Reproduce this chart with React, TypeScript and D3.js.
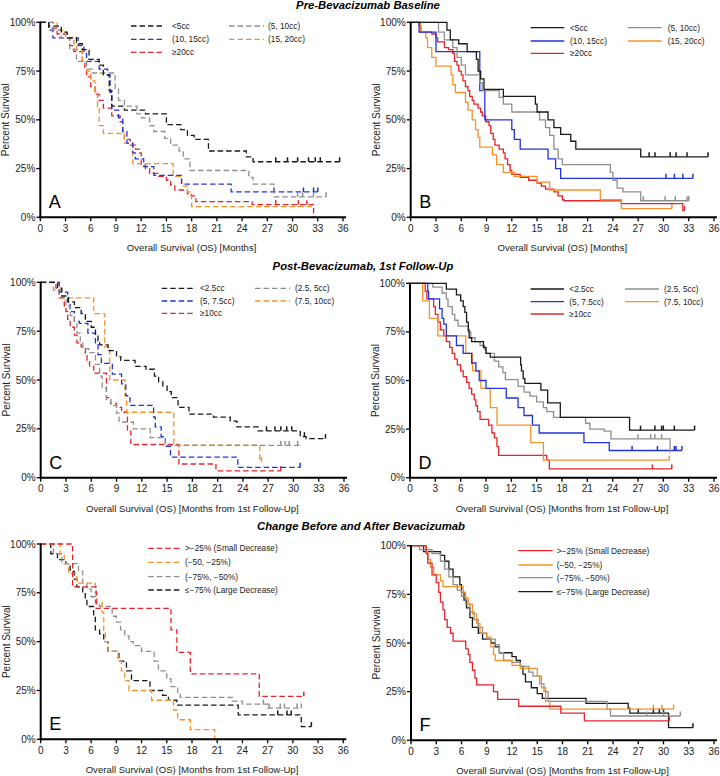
import React from 'react';
import * as d3 from 'd3';

type Step = [number, number];

// ---------- Panel A: Pre-Bevacizumab Baseline (dashed) ----------
const A_lt5: Step[] = [[1.0,98],[2.5,95],[3.2,92],[4.3,89],[5.0,86],[5.8,81],[7.0,78],[7.5,73],[8.2,65],[8.5,57],[10.0,55],[12.5,53],[15.0,47.5],[16.7,45],[17.5,42],[18.3,40],[20.0,34],[24.5,31],[25.3,28.5]];
const A_lt5_censor = [28.0,29.4,30.6,31.9,32.7,33.3,35.6];
const A_5to10: Step[] = [[1.5,96],[2.5,92],[3.5,86],[4.3,80],[5.5,76],[6.2,74],[8.9,66],[9.3,60],[10,57],[11.5,53],[12,51],[13,47],[13.5,44],[14.8,40.5],[15.5,37],[16.5,34],[17,30],[17.8,24],[24.8,20.5],[25.3,17],[27.8,10.5]];
const A_5to10_censor = [30.6,31.2,32.5,34.0];
const A_10to15: Step[] = [[1,96],[1.5,92],[4.5,88],[5.2,84],[5.5,80],[7,76],[8,73],[8.3,64],[8.5,55],[9.3,51],[9.8,44],[10.3,38],[11,33],[11.3,30],[12.3,26],[13.5,21.5],[16.8,17],[22.7,13]];
const A_10to15_censor = [27.8,31.3,32.5,33.0];
const A_15to20: Step[] = [[2,96],[3,92],[4,89],[4.3,86],[5,80],[5.5,75],[6,70],[6.5,64],[6.8,57],[7,47],[7.5,43],[10,38],[11,27.5],[15.8,21],[16.8,16],[17.5,13],[17.8,11],[18,5.5]];
const A_15to20_censor: number[] = [];
const A_ge20: Step[] = [[1,97],[2,94],[3,92],[3.5,88],[4,85],[5,80],[5.3,76],[5.5,72],[6,67],[6.5,63],[7,60],[7.5,56],[8.5,52],[9.5,49],[9.8,44],[10,40],[10.7,37],[11.3,35],[11.8,33],[12,27],[12.5,25],[13,22.5],[14,21],[15,19],[15.5,16.5],[16,14],[17.5,12],[18,11],[18.5,8],[25.2,6.5],[32.5,0]];
const A_ge20_censor = [28.0,30.7,31.7];

// ---------- Panel B: Pre-Bevacizumab Baseline (solid) ----------
const B_lt5: Step[] = [[4.3,96],[4.7,91],[5.7,89],[6.7,85],[7.8,81],[8.0,75],[8.3,71],[8.7,65.6],[11,62],[14.8,58],[15,54],[16.3,50],[17,46],[17.8,42.5],[19,39],[19.6,35],[27.3,31]];
const B_lt5_censor = [28.3,29.0,30.8,31.5,32.8,35.3];
const B_5to10: Step[] = [[3.3,95],[4,91],[5,87],[5.5,82],[6,78],[6.5,73],[8.2,69],[8.5,65],[10.5,61.5],[11,58],[12,54],[15.3,50],[16,46],[16.5,42],[17,35],[17.5,30],[18,27],[23.7,23],[24,19],[24.5,15],[25.2,13],[27.3,8.5]];
const B_5to10_censor = [27.6,30.2,31.4,32.8,33.0];
const B_10to15: Step[] = [[1,95],[3,85],[8.2,65],[8.8,50],[12,45],[12.3,40],[13,35],[16.3,30],[17.2,25],[17.8,20]];
const B_10to15_censor = [30.3,31.3,32.3,33.5];
const B_15to20: Step[] = [[1.2,95],[1.8,92],[2,87],[2.5,82],[3,77.5],[4.8,73],[5,68],[5.3,64],[6.5,59],[6.8,55],[7.3,50],[7.7,45],[8,41],[8.2,36],[9.7,32],[10.2,27],[11,23],[12.3,21],[15,18],[16.5,14],[22.5,9],[25,4.5]];
const B_15to20_censor = [31.0];
const B_ge20: Step[] = [[1,98],[1.2,95],[2.5,94],[3,92],[3.2,90],[4,87],[4.5,86],[5,84],[5.2,80],[5.5,78],[5.7,75],[6,73],[6.2,70],[6.5,67],[6.8,65],[7,62],[7.3,60],[7.5,58],[8,56],[8.3,54],[8.5,52],[8.9,49],[9.3,47],[9.5,43],[9.8,40],[10,37],[10.5,35],[11,33],[11.2,30],[11.5,27],[11.8,24],[12,22],[13,20.5],[14,19],[15,17.5],[15.5,16],[16,14.5],[17,13],[17.5,11],[18,9],[18.2,8.5],[25,7],[32.3,3.5]];
const B_ge20_censor = [32.5];

// ---------- Panel C: Post-Bevacizumab 1st Follow-Up (dashed) ----------
const C_lt25: Step[] = [[2,97],[2.5,93],[3.3,90],[4,87],[4.8,84],[5.3,80],[6,77],[6.5,73],[6.8,70],[7,68],[8,65],[9,62],[9.5,60],[11.2,57],[12.5,55.5],[13.5,52],[14,49],[14.5,47],[15,44],[15.5,41],[16.3,36],[17.6,32.5],[20.5,31],[22.5,29],[23.3,26],[25.8,24],[30.8,21],[31.5,20]];
const C_lt25_censor = [26.8,27.8,28.5,29.2,29.8,31.3,33.8];
const C_25to5: Step[] = [[1.5,96],[2.5,92],[3,88],[3.5,83],[4,79],[4.3,74],[4.7,70],[5,66],[5.7,64],[6.5,58],[7,52],[7.3,46],[7.8,40],[8.3,37],[9,33],[9.3,28.5],[11,25],[13,20.5],[14.8,16.5]];
const C_25to5_censor = [28.5,29.0,29.5,30.5];
const C_5to75: Step[] = [[2.2,95],[3.2,90],[3.5,85],[4,80],[4.6,79],[5.6,74],[6.5,69],[6.8,63],[7.2,58.5],[8.5,53],[9.6,48],[10.1,42],[10.6,37],[13.4,31],[13.6,26],[14.3,21],[14.8,16],[15.4,10.5],[23.4,5.3]];
const C_5to75_censor = [30.8];
const C_75to10: Step[] = [[2.2,92],[6.3,84],[7.6,67],[8.2,50],[10,42],[10.2,33.5],[15.8,16.7],[26,8.3]];
const C_75to10_censor = [26.2];
const C_ge10: Step[] = [[1.8,97],[2.2,92],[2.8,88],[3,85],[3.2,81],[3.5,77],[4,73],[4.3,69],[4.8,67],[5.3,63],[5.5,60],[5.8,57],[6.3,53.5],[7.8,41],[8.3,38],[9,36],[9.6,33.5],[10.3,24],[10.7,17],[16.4,7],[20.8,3.5]];
const C_ge10_censor = [28.5];

// ---------- Panel D: Post-Bevacizumab 1st Follow-Up (solid) ----------
const D_lt25: Step[] = [[4.3,97],[5.5,94],[6,91],[6.3,88],[6.5,85],[6.7,80],[6.9,76],[7,72],[7.3,70],[8.7,67],[9,64],[9.5,62],[13.1,58],[13.2,55],[13.4,51],[13.6,48.5],[15.5,45],[16.3,38.5],[17.8,31],[26,24.5]];
const D_lt25_censor = [27.3,29.0,29.8,30.0,31.3,33.7];
const D_25to5: Step[] = [[2.7,98],[3.8,95],[4.3,92],[4.5,88],[5,84],[5.3,81],[5.7,78],[6.9,75],[7.2,72],[7.7,70],[8.3,68],[8.8,66],[9,64],[10,60],[10.5,57],[11,54],[11.3,50.5],[12.8,47],[13.5,44],[14.2,42],[15,39],[15.8,36],[16.2,34],[17,31],[20.8,28],[21.3,25],[23,24],[23.8,20],[30.8,13]];
const D_25to5_censor = [27.0,28.5,29.0,29.8];
const D_5to75: Step[] = [[2.1,96],[2.2,92],[3.5,87],[3.8,82],[4,79],[4.3,73],[5.5,68],[6.3,64],[7.3,59],[7.8,55],[8.2,50],[9,46],[11.4,41],[12.8,36],[13.5,32],[14.5,27],[15.3,23],[20.6,18],[23.6,14]];
const D_5to75_censor = [26.3,29.3,31.3,31.5,32.2];
const D_75to10: Step[] = [[1.5,91],[2.3,82],[3.3,73],[6.6,64],[7.4,55],[8.4,46],[9.5,36],[10.3,27],[14.3,18],[15.8,9]];
const D_75to10_censor = [30.7];
const D_ge10: Step[] = [[1.8,96],[2,92],[2.8,88],[3,84],[3.3,80],[3.6,76],[4,73],[4.3,70],[4.7,67],[5,64],[5.3,61],[5.6,58],[6,55],[6.3,52],[6.7,49],[7,46],[7.3,43],[7.6,40],[7.8,37],[8,34],[8.3,30],[9.3,27],[9.7,23],[10,20.5],[10.3,16],[10.5,11.5],[16.2,9],[16.5,4.5]];
const D_ge10_censor = [28.7,31.0];

// ---------- Panel E: Change Before and After (dashed) ----------
const E_small: Step[] = [[3.8,78],[6.6,67],[15.5,56],[16.2,44.5],[17.8,33.5],[26,22]];
const E_small_censor = [31.3];
const E_50to25: Step[] = [[2.3,95],[2.8,90],[3.3,85],[4.3,80],[6.5,75],[6.7,70],[7.3,65],[7.5,55],[7.7,50],[8,45],[9.2,40],[9.6,35],[10,30],[10.5,25],[13.2,20],[15.8,15],[16.3,10],[17.8,5],[20.7,0]];
const E_50to25_censor: number[] = [];
const E_75to50: Step[] = [[1.5,95],[2.5,90],[4.5,86],[5,80],[5.5,77],[6,73],[6.5,70],[7,68],[8.5,63],[9,60],[9.5,56],[10,53],[10.5,50],[11,48],[12,45],[13.5,40],[14,35],[15,31],[15.5,27],[16.3,24],[16.6,21.5],[22.8,19.5],[24,18],[27,16]];
const E_75to50_censor = [26.5,27.2,28.5,29.0,30.5,31.0];
const E_large: Step[] = [[1.2,95],[2,92],[3,90],[3.5,86],[4,82],[4.3,78],[5,75],[5.3,72],[5.5,68],[6.3,63],[6.5,56],[7,54],[7.5,50],[8,45],[9.3,40],[10.2,35],[10.8,30],[13,25],[14.5,22.5],[15.2,20],[16.2,17.5],[23.5,12.5],[31,6.5]];
const E_large_censor = [28.2,29.3,29.8,32.2];

// ---------- Panel F: Change Before and After (solid) ----------
const F_small: Step[] = [[1.8,96],[2,91],[2.5,85],[3,81],[3.3,76],[3.5,71],[3.8,67],[4,62],[4.3,58],[4.7,55],[5,51],[6.5,47],[6.8,44],[7,40],[7.3,36],[7.6,32],[7.8,28.5],[9.8,25],[10.3,21],[12.8,17.5],[17.8,14],[20.6,10]];
const F_small_censor = [30.7];
const F_50to25: Step[] = [[1.8,97],[2,93],[2.3,89],[2.7,85],[3.5,82],[3.8,79],[6.2,76],[6.5,73],[6.8,70],[7.3,65],[7.8,60],[8.2,55],[9,53],[9.5,48],[9.8,44],[10,41],[12,38.5],[13,37],[15,33],[15.5,27],[16,20],[16.5,16]];
const F_50to25_censor = [28.8,29.8,31.2];
const F_75to50: Step[] = [[1,98],[2.5,96],[3.5,92],[4,88],[4.5,84],[5,80],[5.5,77],[6,74],[6.5,70],[7,66],[7.5,62],[8,58],[8.5,55],[9,52],[10,49],[10.5,45],[11,41],[12,40],[13,38],[14,35],[14.5,33],[15.3,29],[15.8,25],[16.3,20],[23.3,16],[23.7,12.5]];
const F_75to50_censor = [28.0,30.0,32.0];
const F_large: Step[] = [[1.5,97],[3.5,95],[4,92],[4.5,88],[5,84],[5.8,80],[6,76],[6.3,72],[6.6,68],[7,63],[7.3,58],[8,55],[8.5,52],[9.5,50],[10,48],[10.5,45],[12,43],[12.5,41],[13,38],[13.3,34],[13.6,30],[14.3,27],[15,24],[15.6,21.5],[20.8,19],[25.8,16.5],[26,14],[30.6,6.5]];
const F_large_censor = [27.0,28.8,29.5,30.0,33.5];

// ---------- Labels / ticks ----------
const xTicks = [0,3,6,9,12,15,18,21,24,27,30,33,36];
const yTicks = [0,25,50,75,100];
const yTickLabels = ['0%','25%','50%','75%','100%'];
const labelsAB = ['<5cc','(5, 10cc)','(10, 15cc)','(15, 20cc)','≥20cc'];
const labelsCD = ['<2.5cc','(2.5, 5cc)','(5, 7.5cc)','(7.5, 10cc)','≥10cc'];
const labelsEF = ['>−25% (Small Decrease)','(−50, −25%)','(−75%, −50%)','≤−75% (Large Decrease)'];
const endsA = [35.6, 34.0, 33.0, 32.5, 32.5];
const endsB = [35.3, 33.0, 33.5, 31.0, 32.5];
const endsC = [33.8, 30.8, 30.8, 26.2, 28.5];
const endsD = [33.7, 30.8, 32.2, 30.7, 31.0];
const endsE = [31.3, 20.7, 31.0, 32.2];
const endsF = [30.7, 31.2, 32.0, 33.5];
const sectionTitles = ['Pre-Bevacizumab Baseline', 'Post-Bevacizumab, 1st Follow-Up', 'Change Before and After Bevacizumab'];

const FONT = "'Liberation Sans', Arial, Helvetica, sans-serif";

const COL = {
  black: '#1a1a1a', gray: '#8f8f8f', blue: '#2233d8', orange: '#f5922a', red: '#e5242a',
};
const fiveColors = [COL.black, COL.gray, COL.blue, COL.orange, COL.red];
const fourColors = [COL.red, COL.orange, COL.gray, COL.black];

interface Series { label: string; color: string; steps: Step[]; end: number; censors: number[]; }
interface PanelCfg {
  letter: string; x0: number; x1: number; yTop: number; yBot: number; dashed: boolean;
  xTitle: string; series: Series[];
  legCols: { lineX: number; lineW: number; textX: number }[]; legRows: number[];
}

function mk(labels: string[], colors: string[], steps: Step[][], ends: number[], censors: number[][]): Series[] {
  return labels.map((l, i) => ({ label: l, color: colors[i], steps: steps[i], end: ends[i], censors: censors[i] }));
}

const panels: PanelCfg[] = [
  {
    letter: 'A', x0: 40.3, x1: 343, yTop: 22.3, yBot: 217.3, dashed: true,
    xTitle: 'Overall Survival (OS) [Months]',
    series: mk(labelsAB, fiveColors, [A_lt5, A_5to10, A_10to15, A_15to20, A_ge20], endsA,
      [A_lt5_censor, A_5to10_censor, A_10to15_censor, A_15to20_censor, A_ge20_censor]),
    legCols: [{ lineX: 131, lineW: 34, textX: 172 }, { lineX: 229, lineW: 35, textX: 268 }],
    legRows: [26, 39.3, 52.3],
  },
  {
    letter: 'B', x0: 410.7, x1: 714, yTop: 22.3, yBot: 217.3, dashed: false,
    xTitle: 'Overall Survival (OS) [Months]',
    series: mk(labelsAB, fiveColors, [B_lt5, B_5to10, B_10to15, B_15to20, B_ge20], endsB,
      [B_lt5_censor, B_5to10_censor, B_10to15_censor, B_15to20_censor, B_ge20_censor]),
    legCols: [{ lineX: 530.7, lineW: 33.5, textX: 570 }, { lineX: 628, lineW: 33.7, textX: 667.7 }],
    legRows: [27.7, 41, 53.3],
  },
  {
    letter: 'C', x0: 40.7, x1: 344, yTop: 282.3, yBot: 477.7, dashed: true,
    xTitle: 'Overall Survival (OS) [Months from 1st Follow-Up]',
    series: mk(labelsCD, fiveColors, [C_lt25, C_25to5, C_5to75, C_75to10, C_ge10], endsC,
      [C_lt25_censor, C_25to5_censor, C_5to75_censor, C_75to10_censor, C_ge10_censor]),
    legCols: [{ lineX: 161.7, lineW: 31.6, textX: 200 }, { lineX: 255, lineW: 35, textX: 295 }],
    legRows: [288.3, 301, 313.3],
  },
  {
    letter: 'D', x0: 410, x1: 714, yTop: 283.3, yBot: 477.7, dashed: false,
    xTitle: 'Overall Survival (OS) [Months from 1st Follow-Up]',
    series: mk(labelsCD, fiveColors, [D_lt25, D_25to5, D_5to75, D_75to10, D_ge10], endsD,
      [D_lt25_censor, D_25to5_censor, D_5to75_censor, D_75to10_censor, D_ge10_censor]),
    legCols: [{ lineX: 530.7, lineW: 33.3, textX: 569.3 }, { lineX: 625, lineW: 34, textX: 664 }],
    legRows: [289, 301.7, 314],
  },
  {
    letter: 'E', x0: 40.7, x1: 343.3, yTop: 544, yBot: 739.3, dashed: true,
    xTitle: 'Overall Survival (OS) [Months from 1st Follow-Up]',
    series: mk(labelsEF, fourColors, [E_small, E_50to25, E_75to50, E_large], endsE,
      [E_small_censor, E_50to25_censor, E_75to50_censor, E_large_censor]),
    legCols: [{ lineX: 148.3, lineW: 33.4, textX: 185 }],
    legRows: [548.3, 562.3, 576.7, 590],
  },
  {
    letter: 'F', x0: 411, x1: 714, yTop: 545.7, yBot: 740.3, dashed: false,
    xTitle: 'Overall Survival (OS) [Months from 1st Follow-Up]',
    series: mk(labelsEF, fourColors, [F_small, F_50to25, F_75to50, F_large], endsF,
      [F_small_censor, F_50to25_censor, F_75to50_censor, F_large_censor]),
    legCols: [{ lineX: 518.3, lineW: 34.4, textX: 556.7 }],
    legRows: [550.7, 565, 577.7, 591.7],
  },
];

function survAt(steps: Step[], t: number): number {
  let s = 100;
  for (const [tt, ss] of steps) { if (tt <= t) s = ss; else break; }
  return s;
}

const DASH = '5.5,3';

function Panel({ p }: { p: PanelCfg }) {
  const x = d3.scaleLinear().domain([0, 36]).range([p.x0, p.x1]);
  const y = d3.scaleLinear().domain([0, 100]).range([p.yBot, p.yTop]);
  const line = d3.line<[number, number]>().x(d => x(d[0])).y(d => y(d[1])).curve(d3.curveStepAfter);
  const ncols = p.legCols.length;
  const drawOrder = p.series.map((s, i) => i).reverse();
  return (
    <g>
      {drawOrder.map(i => {
        const s = p.series[i];
        const pts: [number, number][] = [[0, 100], ...s.steps.map(d => [d[0], d[1]] as [number, number])];
        const last = pts[pts.length - 1];
        if (s.end > last[0]) pts.push([s.end, last[1]]);
        return (
          <g key={i}>
            <path d={line(pts) || ''} fill="none" stroke={s.color} strokeWidth={1.3}
              strokeDasharray={p.dashed ? DASH : undefined} />
            {s.censors.map((c, j) => {
              const cx = x(c); const cy = y(survAt(s.steps, c));
              return <line key={j} x1={cx} x2={cx} y1={cy} y2={cy - 4.5} stroke={s.color} strokeWidth={1.5} />;
            })}
          </g>
        );
      })}
      {/* axes */}
      <line x1={p.x0} x2={p.x0} y1={p.yTop - 0.5} y2={p.yBot + 1} stroke="#000" strokeWidth={2} />
      <line x1={p.x0 - 1} x2={x(36) + 3} y1={p.yBot} y2={p.yBot} stroke="#000" strokeWidth={2} />
      {yTicks.map((v, i) => (
        <g key={'y' + v}>
          <line x1={p.x0 - 4} x2={p.x0} y1={y(v)} y2={y(v)} stroke="#000" strokeWidth={1.3} />
          <text x={p.x0 - 5} y={y(v) + 3.5} textAnchor="end" fontSize={10} fontFamily={FONT} fill="#222">{yTickLabels[i]}</text>
        </g>
      ))}
      {xTicks.map(v => (
        <g key={'x' + v}>
          <line x1={x(v)} x2={x(v)} y1={p.yBot} y2={p.yBot + 4} stroke="#000" strokeWidth={1.3} />
          <text x={x(v)} y={p.yBot + 14.5} textAnchor="middle" fontSize={10} fontFamily={FONT} fill="#222">{v}</text>
        </g>
      ))}
      <text x={(p.x0 + p.x1) / 2} y={p.yBot + 34} textAnchor="middle" fontSize={9.6} fontFamily={FONT} fill="#222">{p.xTitle}</text>
      <text transform={`translate(${p.x0 - 31},${(p.yTop + p.yBot) / 2}) rotate(-90)`} textAnchor="middle"
        fontSize={10} fontFamily={FONT} fill="#222">Percent Survival</text>
      <text x={p.x0 + 8.5} y={p.yBot - 9} fontSize={18} fontFamily={FONT} fill="#000">{p.letter}</text>
      {/* legend */}
      {p.series.map((s, i) => {
        const c = p.legCols[i % ncols];
        const ry = p.legRows[Math.floor(i / ncols)];
        return (
          <g key={'lg' + i}>
            <line x1={c.lineX} x2={c.lineX + c.lineW} y1={ry} y2={ry} stroke={s.color} strokeWidth={1.3}
              strokeDasharray={p.dashed ? DASH : undefined} />
            <text x={c.textX} y={ry + 3} fontSize={8.3} fontFamily={FONT} fill="#222">{s.label}</text>
          </g>
        );
      })}
    </g>
  );
}

const titlePos = [{ x: 368, y: 9 }, { x: 363, y: 269.5 }, { x: 361, y: 530 }];

export default function App() {
  return (
    <svg width={720} height={776} style={{ display: 'block', position: 'absolute', left: 0, top: 0, background: '#fff' }}>
      <rect x={0} y={0} width={720} height={776} fill="#fff" />
      {sectionTitles.map((t, i) => (
        <text key={t} x={titlePos[i].x} y={titlePos[i].y} textAnchor="middle" fontSize={11.3} fontWeight="bold"
          fontStyle="italic" fontFamily={FONT} fill="#000">{t}</text>
      ))}
      {panels.map(p => <Panel key={p.letter} p={p} />)}
    </svg>
  );
}
